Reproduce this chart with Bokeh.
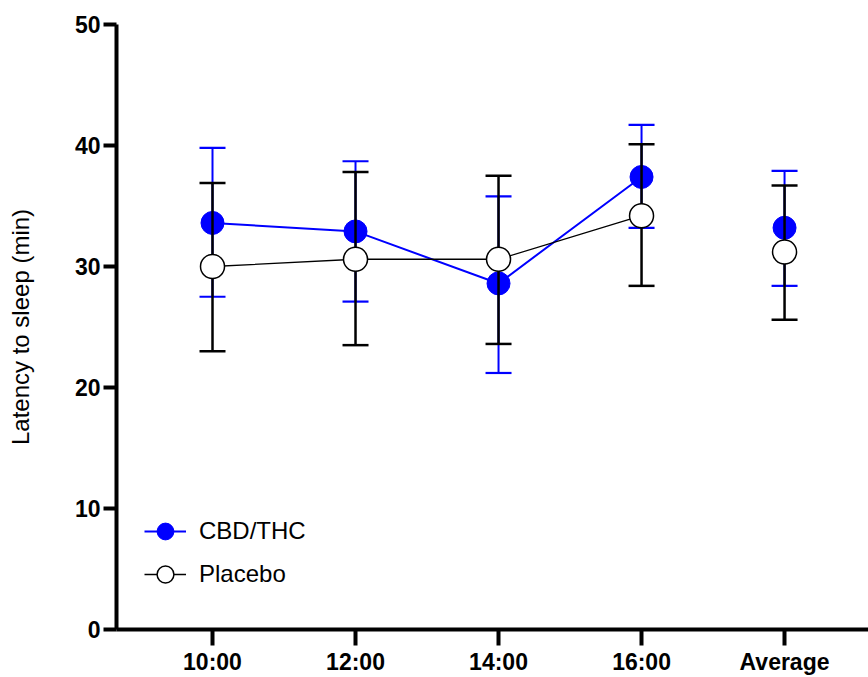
from bokeh.plotting import figure
from bokeh.models import FixedTicker, Range1d, Legend, LegendItem, ColumnDataSource
from bokeh.embed import file_html
from bokeh.resources import INLINE

# ---- data ----
times = ["10:00", "12:00", "14:00", "16:00", "Average"]
xpos = [1, 2, 3, 4, 5]

cbd_mean = [33.6, 32.9, 28.6, 37.4, 33.2]
cbd_upper = [39.8, 38.7, 35.8, 41.7, 37.9]
cbd_lower = [27.5, 27.1, 21.2, 33.2, 28.4]

pla_mean = [30.0, 30.6, 30.6, 34.2, 31.2]
pla_upper = [36.9, 37.8, 37.5, 40.1, 36.7]
pla_lower = [23.0, 23.5, 23.6, 28.4, 25.6]

y_ticks = [0, 10, 20, 30, 40, 50]

BLUE = "#0000FF"
FONT = "Liberation Sans"

p = figure(width=868, height=677, output_backend="svg", toolbar_location=None,
           x_range=Range1d(0.3287, 5.587), y_range=Range1d(0, 50),
           min_border_left=116, min_border_right=0, min_border_top=24,
           min_border_bottom=46)
p.outline_line_color = None
p.grid.visible = False
p.background_fill_color = "white"
p.border_fill_color = "white"

cbd = ColumnDataSource(dict(x=xpos, m=cbd_mean, up=cbd_upper, lo=cbd_lower))
pla = ColumnDataSource(dict(x=xpos, m=pla_mean, up=pla_upper, lo=pla_lower))
cbd_t = ColumnDataSource(dict(x=xpos[:4], m=cbd_mean[:4]))
pla_t = ColumnDataSource(dict(x=xpos[:4], m=pla_mean[:4]))

# CBD/THC error bars
p.segment(x0="x", y0="lo", x1="x", y1="up", source=cbd, line_color=BLUE, line_width=2)
p.scatter(x="x", y="up", source=cbd, marker="dash", size=26, line_color=BLUE, line_width=2.2)
p.scatter(x="x", y="lo", source=cbd, marker="dash", size=26, line_color=BLUE, line_width=2.2)
cbd_line = p.line(x="x", y="m", source=cbd_t, line_color=BLUE, line_width=2)
cbd_pts = p.scatter(x="x", y="m", source=cbd, marker="circle", size=23,
                    fill_color=BLUE, line_color=BLUE, line_width=1)

# Placebo error bars
p.segment(x0="x", y0="lo", x1="x", y1="up", source=pla, line_color="black", line_width=2.5)
p.scatter(x="x", y="up", source=pla, marker="dash", size=26, line_color="black", line_width=2.5)
p.scatter(x="x", y="lo", source=pla, marker="dash", size=26, line_color="black", line_width=2.5)
pla_line = p.line(x="x", y="m", source=pla_t, line_color="black", line_width=1.3)
pla_pts = p.scatter(x="x", y="m", source=pla, marker="circle", size=24,
                    fill_color="white", line_color="black", line_width=1.5)

# axes
p.xaxis.ticker = FixedTicker(ticks=xpos)
p.xaxis.major_label_overrides = {x: t for x, t in zip(xpos, times)}
p.yaxis.ticker = FixedTicker(ticks=y_ticks)
for ax in (p.xaxis, p.yaxis):
    ax.axis_line_width = 4
    ax.axis_line_color = "black"
    ax.major_tick_line_width = 4
    ax.major_tick_line_color = "black"
    ax.major_tick_in = 0
    ax.minor_tick_line_color = None
    ax.major_label_text_font = FONT
    ax.major_label_text_font_size = "23px"
    ax.major_label_text_font_style = "bold"
    ax.major_label_text_color = "black"
p.xaxis.major_tick_out = 16
p.xaxis.major_label_standoff = 3
p.yaxis.major_tick_out = 13
p.yaxis.major_label_standoff = 3
p.yaxis.axis_label = "Latency to sleep (min)"
p.yaxis.axis_label_text_font = FONT
p.yaxis.axis_label_text_font_size = "24px"
p.yaxis.axis_label_text_font_style = "normal"
p.yaxis.axis_label_text_color = "black"
p.yaxis.axis_label_standoff = 38

legend = Legend(items=[
    LegendItem(label="CBD/THC", renderers=[cbd_line, cbd_pts]),
    LegendItem(label="Placebo", renderers=[pla_line, pla_pts]),
], location=(28, 34), glyph_width=42, glyph_height=42, spacing=1,
    padding=0, margin=0, label_standoff=13,
    label_text_font=FONT, label_text_font_size="24px", label_text_color="black",
    border_line_color=None, background_fill_alpha=0)
p.add_layout(legend)

open("out.html", "w").write(file_html(p, INLINE))
